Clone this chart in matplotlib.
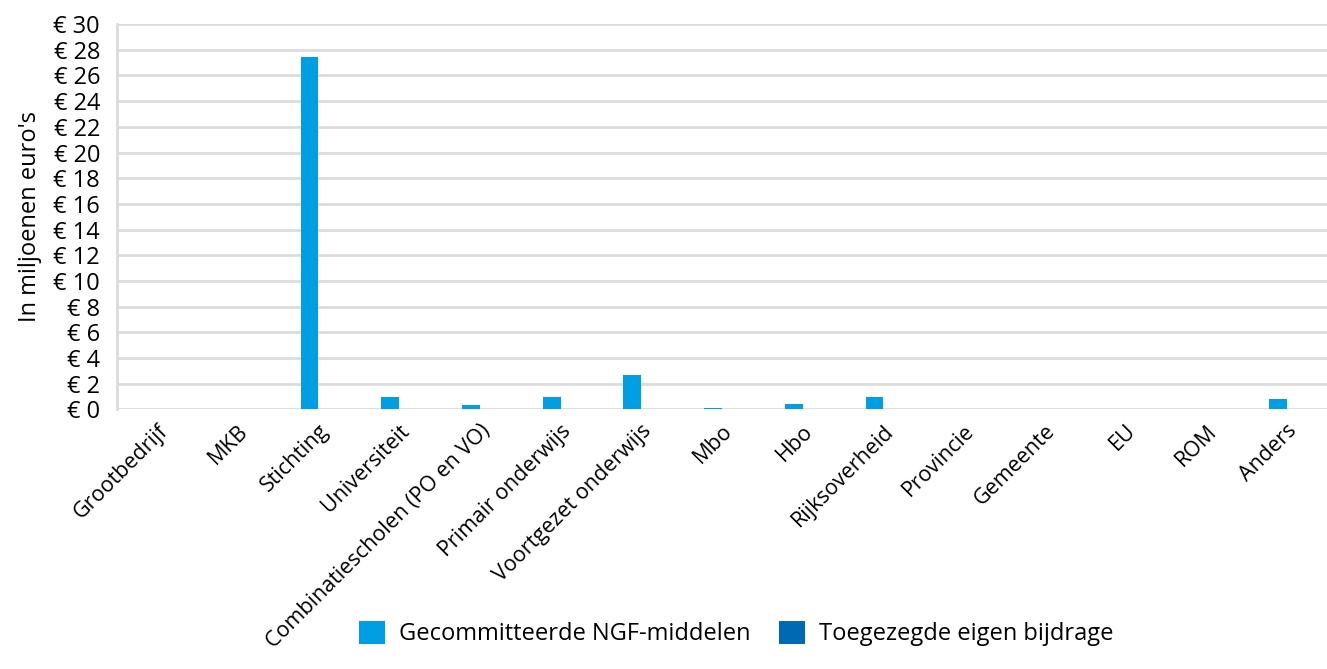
import matplotlib
matplotlib.use("Agg")
import matplotlib.pyplot as plt
import numpy as np

categories = ["Grootbedrijf", "MKB", "Stichting", "Universiteit",
              "Combinatiescholen (PO en VO)", "Primair onderwijs",
              "Voortgezet onderwijs", "Mbo", "Hbo", "Rijksoverheid",
              "Provincie", "Gemeente", "EU", "ROM", "Anders"]
ngf = [0, 0, 27.4, 0.95, 0.32, 1.0, 2.65, 0.1, 0.42, 0.95, 0, 0, 0, 0, 0.85]
eigen = [0, 0, 0, 0, 0, 0, 0, 0, 0, 0, 0, 0, 0, 0, 0]
yticks = list(range(0, 31, 2))

plt.rcParams['font.family'] = ['Open Sans', 'DejaVu Sans']
fs = 17

fig = plt.figure(figsize=(13.27, 6.69), dpi=100)
ax = fig.add_axes([0.088, 0.388, 0.912, 0.576])

x = np.arange(len(categories))
w = 0.22
ax.bar(x - w / 2, ngf, width=w, color="#009FE3", label="Gecommitteerde NGF-middelen", zorder=3)
ax.bar(x + w / 2, eigen, width=w, color="#0069B4", label="Toegezegde eigen bijdrage", zorder=3)

ax.set_xlim(-0.5, len(categories) - 0.5)
ax.set_ylim(0, 30)
ax.set_yticks(yticks)
ax.set_yticklabels([f"€ {v}" for v in yticks], fontsize=fs)
ax.set_xticks(x)
ax.set_xticklabels(categories, rotation=45, ha="right", rotation_mode="anchor", fontsize=15.5)
ax.tick_params(axis="y", length=0, pad=12)
ax.tick_params(axis="x", length=0, pad=8)
ax.grid(axis="y", color="#DCDCDC", linewidth=2, zorder=0)
for s in ["top", "right", "bottom"]:
    ax.spines[s].set_visible(False)
ax.spines["left"].set_color("#DCDCDC")
ax.spines["left"].set_linewidth(2)
ax.set_ylabel("In miljoenen euro's", fontsize=fs, labelpad=8)

fig.legend(loc="center", bbox_to_anchor=(0.555, 0.053), ncol=2, frameon=False,
           fontsize=fs, handlelength=1.1, handleheight=1.1, columnspacing=1.2,
           handletextpad=0.6)

fig.savefig("out.png", dpi=100)
